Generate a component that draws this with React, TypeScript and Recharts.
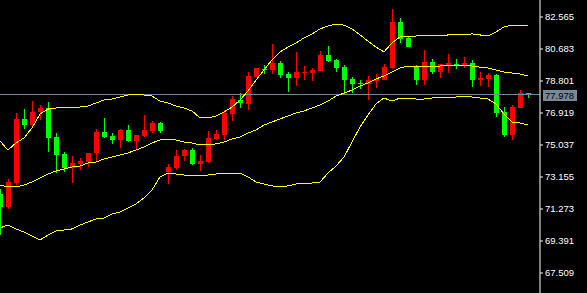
import React from 'react';
import { ComposedChart, Bar, Line, XAxis, YAxis, ReferenceLine } from 'recharts';

// candle prices, one entry per bar (oldest first)
const opens = [72.15, 71.39, 72.80, 76.57, 76.21, 76.98, 77.21, 75.51, 74.51, 73.69,
  73.92, 74.04, 74.57, 75.80, 75.57, 75.33, 75.92, 75.27, 75.57, 75.86,
  76.33, 73.45, 73.69, 74.39, 74.74, 73.92, 74.04, 75.39, 75.63, 76.86,
  77.68, 77.45, 79.04, 79.51, 79.45, 79.86, 79.21, 78.98, 79.30, 79.27,
  79.39, 80.33, 80.04, 79.62, 78.92, 78.68, 78.62, 78.80, 78.86, 79.57,
  82.27, 81.33, 79.62, 78.86, 79.92, 79.33, 79.74, 79.80, 79.74, 79.86,
  78.86, 78.92, 79.15, 76.98, 75.63, 77.21, 78.09];

const closes = [71.39, 72.86, 76.57, 76.21, 76.98, 77.21, 75.45, 74.45, 73.69, 73.98,
  74.10, 74.57, 75.80, 75.51, 75.33, 75.92, 75.27, 75.63, 75.92, 76.33,
  75.86, 73.74, 74.39, 74.74, 73.92, 74.10, 75.45, 75.68, 76.92, 77.74,
  77.51, 79.10, 79.57, 79.48, 79.86, 79.15, 78.98, 79.33, 79.33, 79.45,
  80.33, 79.98, 79.57, 78.86, 78.62, 78.62, 78.86, 78.92, 79.62, 82.27,
  81.27, 80.80, 78.86, 79.92, 79.33, 79.80, 79.86, 79.74, 79.86, 78.86,
  78.98, 79.15, 76.92, 75.63, 77.27, 78.09, 77.978];

const highs = [72.45, 73.04, 76.92, 77.15, 77.62, 77.39, 77.57, 75.74, 74.63, 74.39,
  74.27, 74.57, 75.98, 76.63, 75.74, 75.98, 76.21, 75.63, 76.80, 76.45,
  76.39, 73.92, 74.74, 74.80, 74.86, 74.45, 75.86, 75.92, 77.10, 77.92,
  78.09, 79.33, 79.57, 79.74, 80.98, 79.98, 79.33, 80.51, 79.68, 79.57,
  80.57, 80.86, 80.10, 79.74, 79.04, 78.86, 79.10, 79.21, 79.80, 83.04,
  82.51, 81.39, 79.74, 80.62, 80.10, 79.80, 80.39, 80.10, 80.21, 80.04,
  79.33, 79.27, 79.21, 77.27, 77.39, 78.27, 78.09];

const lows = [69.74, 71.27, 72.68, 75.98, 76.16, 76.51, 74.63, 73.39, 73.45, 72.80,
  73.57, 73.74, 74.10, 75.45, 75.10, 74.86, 75.21, 74.80, 75.51, 75.74,
  75.74, 72.74, 73.57, 74.10, 73.86, 73.51, 73.98, 75.33, 75.33, 76.45,
  77.21, 77.10, 79.04, 79.21, 79.21, 78.98, 78.15, 78.51, 78.86, 78.80,
  79.39, 79.92, 79.33, 77.98, 78.09, 78.33, 77.68, 78.39, 78.86, 79.51,
  81.04, 80.78, 78.57, 78.57, 79.21, 78.98, 79.27, 79.51, 79.57, 78.45,
  78.51, 78.45, 76.68, 75.51, 75.33, 77.21, 77.80];

// bollinger bands
const upperBand = [75.27, 74.74, 75.16, 75.45, 76.04, 76.86, 77.15, 77.21, 77.27, 77.27,
  77.27, 77.33, 77.51, 77.68, 77.74, 77.86, 77.98, 77.98, 77.98, 77.92,
  77.62, 77.51, 77.33, 77.21, 77.04, 76.63, 76.63, 76.74, 76.98, 77.27,
  77.68, 78.21, 78.86, 79.45, 80.04, 80.51, 80.80, 81.04, 81.33, 81.57,
  81.86, 82.04, 82.15, 82.09, 81.86, 81.51, 81.15, 80.80, 80.51, 81.04,
  81.39, 81.39, 81.45, 81.45, 81.45, 81.45, 81.51, 81.51, 81.51, 81.57,
  81.51, 81.45, 81.68, 81.98, 82.09, 82.09, 82.09];

const middleBand = [72.68, 72.57, 72.57, 72.68, 72.86, 73.10, 73.33, 73.51, 73.63, 73.74,
  73.80, 73.98, 74.04, 74.21, 74.33, 74.45, 74.57, 74.74, 74.92, 75.16,
  75.33, 75.39, 75.33, 75.21, 75.16, 75.04, 75.04, 75.10, 75.21, 75.39,
  75.51, 75.74, 75.92, 76.21, 76.39, 76.57, 76.74, 76.92, 77.04, 77.21,
  77.39, 77.62, 77.92, 78.09, 78.27, 78.51, 78.68, 78.92, 79.10, 79.33,
  79.57, 79.68, 79.68, 79.68, 79.68, 79.68, 79.74, 79.74, 79.74, 79.68,
  79.62, 79.57, 79.45, 79.33, 79.27, 79.21, 79.10];

const lowerBand = [70.16, 70.33, 70.10, 69.92, 69.69, 69.45, 69.74, 69.98, 70.04, 70.10,
  70.33, 70.51, 70.69, 70.74, 70.98, 71.10, 71.33, 71.57, 71.92, 72.39,
  73.16, 73.39, 73.33, 73.27, 73.21, 73.27, 73.27, 73.33, 73.39, 73.39,
  73.39, 73.16, 72.86, 72.74, 72.63, 72.57, 72.63, 72.74, 72.80, 72.80,
  72.86, 73.39, 73.80, 74.33, 75.21, 76.10, 76.80, 77.45, 77.80, 77.62,
  77.80, 77.80, 77.74, 77.74, 77.80, 77.86, 77.86, 77.86, 77.92, 77.86,
  77.80, 77.74, 77.45, 76.86, 76.39, 76.33, 76.21];

const priceTicks = [67.509, 69.391, 71.273, 73.155, 75.037, 76.919, 78.801, 80.683, 82.565];
const lastPrice = 77.978;

const RED = '#ff0000';
const GREEN = '#00ff00';
const BAND = '#ffff00';
const GRID_GREY = '#778899';

const data = opens.map((open, i) => ({
  i,
  open,
  close: closes[i],
  range: [lows[i], highs[i]],
  upper: upperBand[i],
  mid: middleBand[i],
  lower: lowerBand[i],
}));

const Candle = (props: any) => {
  const { x, y, width, height, payload } = props;
  if (!payload) return null;
  const [low, high] = payload.range;
  const top = Math.min(y, y + height);
  const span = Math.abs(height);
  const toY = (v: number) => top + ((high - v) / (high - low)) * span;
  const rising = payload.close >= payload.open;
  const color = rising ? RED : GREEN;
  const cx = Math.round(x + width / 2);
  const w = Math.round(width);
  const bodyTop = Math.round(toY(Math.max(payload.open, payload.close)));
  const bodyBottom = Math.round(toY(Math.min(payload.open, payload.close)));
  return (
    <g shapeRendering="crispEdges">
      <line x1={cx + 0.5} x2={cx + 0.5} y1={Math.round(top)} y2={Math.round(top + span)} stroke={color} />
      <rect x={cx - Math.floor(w / 2)} y={bodyTop} width={w} height={Math.max(1, bodyBottom - bodyTop)} fill={color} />
    </g>
  );
};

const PriceTag = (props: any) => {
  const { viewBox } = props;
  if (!viewBox) return null;
  const left = viewBox.x + viewBox.width + 3;
  return (
    <g>
      <rect x={left} y={viewBox.y - 5} width={34} height={11} fill={GRID_GREY} />
      <text x={left + 2} y={viewBox.y + 4} fill="#000" fontSize={9.5} fontFamily="Liberation Sans, Arial, sans-serif">
        {lastPrice.toFixed(3)}
      </text>
    </g>
  );
};

export default function App() {
  return (
    <div style={{ position: 'fixed', top: 0, left: 0, width: 587, height: 293, background: '#000' }}>
      <ComposedChart width={587} height={293} data={data} margin={{ top: 0, right: 0, bottom: 0, left: 0 }}>
        <XAxis dataKey="i" type="number" domain={[0, 67.5]} hide />
        <YAxis
          orientation="right"
          width={47}
          domain={[66.333, 83.565]}
          ticks={priceTicks}
          interval={0}
          tickFormatter={(v: number) => v.toFixed(3)}
          tick={{ fill: '#fff', fontSize: 9.5, fontFamily: 'Liberation Sans, Arial, sans-serif' }}
          tickSize={3}
          tickLine={{ stroke: '#fff' }}
          axisLine={{ stroke: '#fff' }}
        />
        <ReferenceLine y={lastPrice} stroke={GRID_GREY} shapeRendering="crispEdges" label={<PriceTag />} />
        <Line dataKey="upper" stroke={BAND} shapeRendering="crispEdges" dot={false} activeDot={false} isAnimationActive={false} type="linear" />
        <Line dataKey="mid" stroke={BAND} shapeRendering="crispEdges" dot={false} activeDot={false} isAnimationActive={false} type="linear" />
        <Line dataKey="lower" stroke={BAND} shapeRendering="crispEdges" dot={false} activeDot={false} isAnimationActive={false} type="linear" />
        <Bar dataKey="range" barSize={5} shape={<Candle />} isAnimationActive={false} />
      </ComposedChart>
    </div>
  );
}
